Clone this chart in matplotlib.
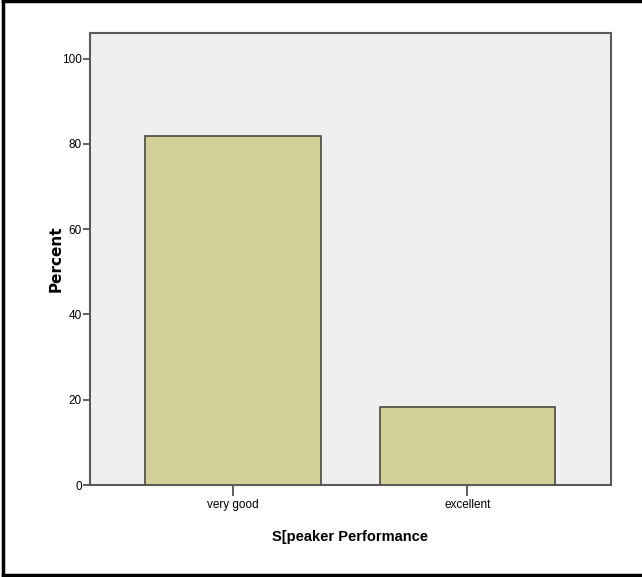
import matplotlib.pyplot as plt
import numpy as np
from matplotlib.lines import Line2D

categories = ["very good", "excellent"]
percent = [81.8, 18.2]
yticks = [0, 20, 40, 60, 80, 100]

plt.rcParams['font.family'] = ['Liberation Sans Narrow', 'Liberation Sans', 'DejaVu Sans']

fig = plt.figure(figsize=(6.42, 5.77), dpi=100)
ax = fig.add_axes([0.1402, 0.1594, 0.8111, 0.7834])

x = np.arange(len(categories))
ax.bar(x, percent, width=0.75, color="#d3cf98", edgecolor="#4a4a44", linewidth=1.2, zorder=3)

ax.set_facecolor("#efefef")
ax.set_xlim(-0.612, 1.612)
ax.set_ylim(0, 106)
ax.set_yticks(yticks)
ax.set_yticklabels([str(t) for t in yticks], fontsize=8.5)
ax.set_xticks(x)
ax.set_xticklabels(categories, fontsize=8.5)
ax.tick_params(axis="y", length=5, width=1.2, color="#444444", pad=1)
ax.tick_params(axis="x", length=8, width=1.2, color="#444444", pad=2)
for s in ax.spines.values():
    s.set_color("#5a5a5a")
    s.set_linewidth(1.5)

ax.set_ylabel("Percent", fontsize=11, fontweight="bold", family=["DejaVu Sans"], labelpad=-1)
ax.set_xlabel("S[peaker Performance", fontsize=10.5, fontweight="bold", labelpad=14)

# outer frame: left, top and bottom edges (right edge is cut off)
for xs, ys in [([0.004, 0.004], [0.003, 0.998]),
               ([0.004, 1.0], [0.998, 0.998]),
               ([0.004, 1.0], [0.003, 0.003])]:
    fig.add_artist(Line2D(xs, ys, transform=fig.transFigure, color="black", linewidth=2.5))

fig.savefig("out.png", dpi=100)
